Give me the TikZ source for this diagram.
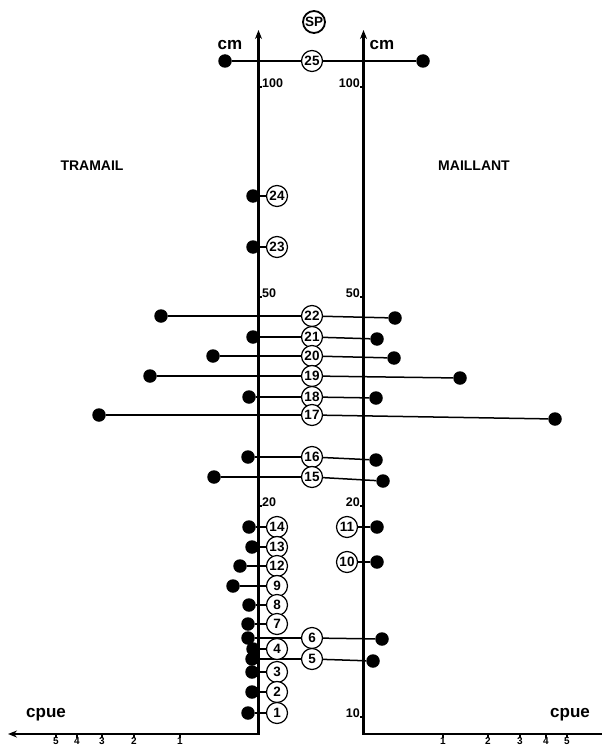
\documentclass[tikz,border=0pt]{standalone}
\usepackage{fontspec}
\setmainfont{Liberation Sans}
\usetikzlibrary{arrows.meta}
\begin{document}
\begin{tikzpicture}[x=1pt,y=-1pt,
  axis/.style={line width=2.2pt},
  tck/.style={line width=1.2pt},
  dat/.style={line width=1.5pt},
  dot/.style={circle,fill=black,inner sep=0pt,minimum size=13.5pt},
  num/.style={circle,draw,line width=1.2pt,fill=white,inner sep=0pt,minimum size=21pt,font=\fontsize{13.5}{13.5}\selectfont\bfseries},
  lab/.style={inner sep=1pt,font=\fontsize{12.5}{12.5}\selectfont\bfseries},
  xlab/.style={inner sep=0.5pt,font=\fontsize{10}{10}\selectfont\bfseries},
  big/.style={inner sep=1pt,font=\fontsize{14}{14}\selectfont\bfseries},
  unit/.style={inner sep=1pt,font=\fontsize{17}{17}\selectfont\bfseries}]
\useasboundingbox (0,0) rectangle (602,749);
% axes
\coordinate (LT) at (258.5,30);
\coordinate (LO) at (258.5,734);
\coordinate (LL) at (8,734);
\coordinate (RT) at (363.5,30);
\coordinate (RO) at (363.5,734);
\coordinate (RR) at (602,734);
\draw[axis,{Stealth[length=9pt,width=7pt]}-{Stealth[length=9pt,width=7pt]}] (LT) -- (LO) -- (LL);
\draw[axis,{Stealth[length=9pt,width=7pt]}-] (RT) -- (RO) -- (RR);
% vertical axis ticks and labels
\foreach \yy/\tt in {87/100,297/50,506/20}{
  \draw[tck] (258.5,\yy) -- (262,\yy);
  \node[lab,anchor=south west] (ll\tt) at (261,\yy+1.5) {\tt};
}
\foreach \yy/\tt in {87/100,297/50,506/20,717/10}{
  \draw[tck] (363.5,\yy) -- (360,\yy);
  \node[lab,anchor=south east] (rl\tt) at (361,\yy+1.5) {\tt};
}
% horizontal axis ticks
\foreach \xx/\tt in {180/1,134/2,102/3,77/4,56/5}{
  \draw[tck] (\xx,734) -- (\xx,738);
  \node[xlab,anchor=north] (lx\tt) at (\xx,737) {\tt};
}
\foreach \xx/\tt in {443/1,488/2,520/3,546/4,567/5}{
  \draw[tck] (\xx,734) -- (\xx,738);
  \node[xlab,anchor=north] (rx\tt) at (\xx,737) {\tt};
}
% titles
\node[unit] (cml) at (230,45) {cm};
\node[unit] (cmr) at (382,45) {cm};
\node[unit] (cpl) at (46,715) {cpue};
\node[unit] (cpr) at (570,715) {cpue};
\node[big] (tra) at (92,166) {TRAMAIL};
\node[big] (mai) at (474,166) {MAILLANT};
\node[circle,draw,line width=1.8pt,inner sep=0pt,minimum size=22pt,font=\fontsize{13.5}{13.5}\selectfont\bfseries] (sp) at (314,22) {SP};
% two-sided rows: n / y / left x / right x / right y
\foreach \n/\yy/\lx/\rx/\ry in {25/61/225/423/61,22/316/161/395/318,21/337/253/377/339,20/356/213/394/358,19/376/150/460/378,18/397/249/376/398,17/415/99/555/419,16/457/248/376/460,15/477/214/383/481,6/638/248/382/639,5/659/252/373/661}{
  \node[dot] (l\n) at (\lx,\yy) {};
  \node[dot] (r\n) at (\rx,\ry) {};
  \node[num] (c\n) at (312,\yy) {\n};
  \draw[dat] (l\n) -- (c\n);
  \draw[dat] (c\n) -- (r\n);
}
% left-only rows
\foreach \n/\yy/\lx in {24/196/253,23/247/253,14/527/249,13/547/252,12/566/240,9/586/233,8/605/249,7/624/248,4/649/253,3/672/252,2/692/252,1/713/248}{
  \node[dot] (l\n) at (\lx,\yy) {};
  \node[num] (c\n) at (277,\yy) {\n};
  \draw[dat] (l\n) -- (c\n);
}
% right-only rows
\foreach \n/\yy/\rx in {11/527/377,10/562/377}{
  \node[dot] (r\n) at (\rx,\yy) {};
  \node[num] (c\n) at (347,\yy) {\n};
  \draw[dat] (c\n) -- (r\n);
}
\end{tikzpicture}
\end{document}
